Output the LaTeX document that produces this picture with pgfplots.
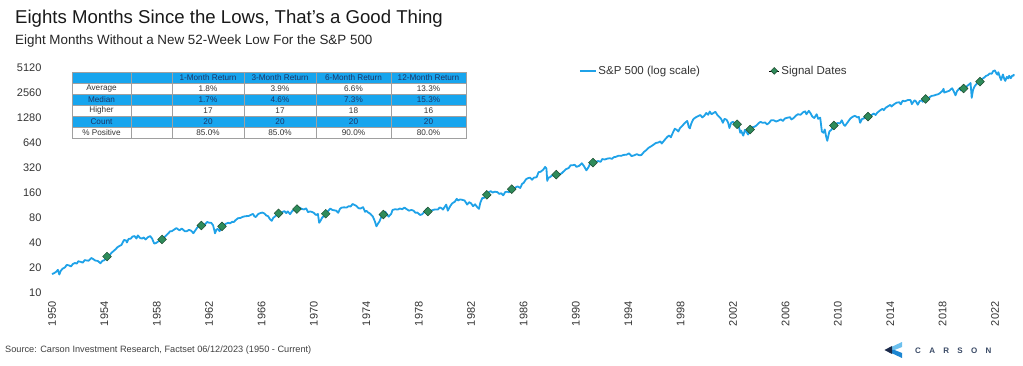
\documentclass[border=0pt]{standalone}
\usepackage{pgfplots}
\usepackage{pgfplotstable}
\pgfplotsset{compat=1.18}
\usepackage{fontspec}
\setmainfont{Liberation Sans}
\definecolor{spblue}{HTML}{1FA2E8}
\definecolor{tblblue}{HTML}{17A5EE}
\definecolor{navytxt}{HTML}{1C3566}
\definecolor{sigfill}{HTML}{2E8B5A}
\definecolor{sigdraw}{HTML}{1D4A2E}
\definecolor{txtgray}{HTML}{333333}
\definecolor{gridgray}{HTML}{A0A0A0}
\definecolor{logolight}{HTML}{6CC0EE}
\definecolor{logomid}{HTML}{1C86D2}
\definecolor{logodark}{HTML}{1B2A4A}
\definecolor{carsontxt}{HTML}{3A4A66}
\pgfplotsset{splegend/.style={legend image code/.code={\draw[##1, line width=1.2pt] (0pt,0pt)--(16pt,0pt);}}}
\pgfplotsset{siglegend/.style={legend image code/.code={\path (0pt,0pt) -- (10pt,0pt); \draw[##1, mark size=2.4pt] plot coordinates {(5pt,0pt)};}}}

\pgfplotstableread{
year value
1950.00 16.9
1950.15 17.3
1950.30 17.9
1950.45 19.0
1950.52 17.4
1950.56 16.7
1950.66 18.4
1950.80 19.6
1951.00 20.4
1951.12 21.8
1951.30 21.5
1951.45 20.9
1951.60 22.4
1951.75 23.0
1951.90 22.6
1952.00 24.1
1952.20 23.7
1952.35 23.2
1952.50 24.9
1952.65 24.6
1952.80 24.5
1953.00 26.4
1953.15 25.6
1953.30 24.6
1953.50 24.3
1953.70 22.8
1953.85 24.4
1954.00 24.8
1954.20 27.5
1954.40 28.6
1954.55 30.6
1954.70 32.0
1954.85 33.6
1955.00 35.6
1955.15 36.8
1955.30 37.9
1955.50 43.5
1955.65 43.0
1955.72 40.6
1955.85 44.8
1956.00 45.0
1956.15 47.8
1956.30 48.5
1956.45 45.2
1956.55 49.4
1956.75 45.6
1956.90 45.4
1957.00 46.7
1957.15 44.1
1957.30 46.7
1957.50 48.5
1957.65 45.0
1957.80 39.4
1957.95 40.0
1958.10 41.7
1958.25 42.4
1958.40 44.1
1958.55 46.2
1958.75 50.0
1958.90 52.5
1959.00 55.2
1959.15 55.5
1959.30 57.6
1959.50 60.5
1959.65 58.0
1959.75 57.0
1959.90 59.8
1960.00 58.0
1960.15 55.3
1960.30 55.5
1960.45 57.6
1960.60 56.5
1960.80 52.5
1960.95 57.0
1961.10 61.6
1961.25 65.0
1961.40 65.0
1961.55 66.7
1961.70 67.5
1961.85 71.8
1962.00 70.0
1962.15 70.2
1962.30 65.2
1962.45 52.3
1962.55 58.0
1962.65 59.1
1962.80 55.5
1962.95 63.1
1963.05 64.0
1963.25 68.0
1963.45 70.0
1963.60 69.1
1963.75 72.0
1963.88 71.5
1964.00 75.0
1964.20 79.5
1964.40 80.2
1964.55 82.5
1964.75 84.0
1964.90 84.4
1965.00 84.5
1965.20 87.6
1965.35 89.5
1965.45 84.0
1965.55 82.0
1965.75 89.5
1965.90 91.6
1966.05 93.0
1966.20 91.0
1966.35 86.0
1966.50 84.0
1966.65 77.1
1966.78 74.0
1966.90 80.5
1967.05 84.0
1967.20 88.5
1967.30 91.0
1967.45 90.6
1967.60 94.6
1967.75 96.7
1967.88 91.6
1968.00 96.0
1968.18 89.0
1968.35 97.5
1968.50 100.0
1968.70 102.5
1968.90 107.0
1969.05 103.0
1969.25 101.5
1969.40 104.5
1969.55 94.0
1969.70 96.0
1969.85 94.5
1970.00 92.0
1970.15 87.0
1970.30 89.5
1970.40 70.0
1970.50 74.0
1970.65 82.0
1970.80 84.0
1970.90 90.0
1971.05 96.0
1971.25 103.9
1971.40 100.0
1971.55 99.0
1971.70 98.0
1971.85 92.5
1972.00 103.9
1972.15 107.0
1972.30 107.5
1972.50 107.0
1972.65 111.0
1972.80 110.0
1972.95 118.0
1973.05 116.0
1973.25 111.5
1973.40 105.0
1973.55 104.0
1973.75 108.0
1973.90 95.0
1974.00 97.5
1974.15 93.0
1974.30 90.0
1974.50 83.0
1974.65 73.0
1974.77 63.5
1974.90 69.0
1975.00 72.5
1975.15 83.0
1975.30 88.0
1975.45 95.0
1975.55 90.0
1975.70 83.0
1975.90 90.0
1976.00 100.0
1976.20 102.0
1976.40 101.0
1976.55 104.0
1976.75 102.0
1976.90 107.0
1977.05 103.0
1977.25 98.0
1977.45 100.0
1977.60 98.0
1977.75 92.5
1977.90 93.0
1978.10 87.0
1978.25 88.5
1978.45 95.0
1978.60 103.0
1978.70 96.0
1978.85 93.0
1979.00 99.0
1979.25 101.5
1979.45 101.0
1979.60 107.0
1979.75 105.0
1979.85 101.0
1980.00 110.0
1980.10 116.0
1980.22 98.0
1980.40 111.0
1980.55 120.0
1980.75 125.5
1980.90 136.0
1981.00 130.0
1981.15 134.0
1981.35 132.0
1981.50 130.0
1981.70 116.0
1981.85 124.0
1982.00 120.0
1982.15 111.0
1982.30 117.0
1982.45 109.0
1982.60 103.0
1982.70 122.0
1982.85 139.0
1983.00 140.0
1983.20 152.0
1983.35 164.0
1983.50 168.0
1983.65 162.0
1983.80 166.0
1984.00 164.0
1984.15 156.0
1984.30 159.0
1984.45 150.0
1984.60 164.0
1984.75 166.0
1984.90 163.0
1985.10 178.0
1985.25 180.0
1985.45 189.0
1985.55 192.0
1985.75 184.0
1985.90 207.0
1986.00 211.0
1986.20 235.0
1986.35 242.0
1986.50 245.0
1986.65 231.0
1986.80 245.0
1987.00 248.0
1987.15 285.0
1987.30 288.0
1987.50 305.0
1987.65 330.0
1987.75 315.0
1987.81 224.0
1987.90 245.0
1988.00 247.0
1988.20 262.0
1988.35 258.0
1988.50 266.0
1988.70 268.0
1988.90 275.0
1989.05 290.0
1989.25 310.0
1989.45 320.0
1989.60 346.0
1989.75 345.0
1989.90 350.0
1990.05 330.0
1990.25 340.0
1990.45 365.0
1990.60 340.0
1990.80 300.0
1990.95 325.0
1991.10 365.0
1991.30 372.0
1991.50 380.0
1991.70 388.0
1991.90 380.0
1992.00 410.0
1992.20 405.0
1992.40 415.0
1992.60 420.0
1992.75 412.0
1992.90 432.0
1993.05 436.0
1993.25 450.0
1993.45 448.0
1993.65 460.0
1993.85 462.0
1994.05 480.0
1994.25 445.0
1994.45 455.0
1994.65 470.0
1994.85 455.0
1995.00 459.0
1995.20 500.0
1995.40 530.0
1995.55 560.0
1995.75 585.0
1995.95 615.0
1996.10 640.0
1996.30 650.0
1996.45 670.0
1996.55 630.0
1996.75 690.0
1996.95 750.0
1997.10 790.0
1997.25 750.0
1997.40 850.0
1997.55 950.0
1997.70 920.0
1997.82 880.0
1997.95 970.0
1998.10 1020.0
1998.30 1110.0
1998.50 1180.0
1998.62 990.0
1998.70 960.0
1998.80 1090.0
1998.95 1230.0
1999.10 1290.0
1999.30 1340.0
1999.50 1390.0
1999.65 1300.0
1999.80 1360.0
1999.95 1470.0
2000.10 1400.0
2000.22 1530.0
2000.35 1420.0
2000.50 1470.0
2000.65 1520.0
2000.80 1390.0
2000.95 1320.0
2001.10 1240.0
2001.22 1120.0
2001.35 1250.0
2001.50 1220.0
2001.62 1130.0
2001.72 970.0
2001.85 1120.0
2001.98 1150.0
2002.10 1120.0
2002.30 1076.0
2002.45 990.0
2002.55 850.0
2002.62 900.0
2002.72 820.0
2002.78 785.0
2002.90 920.0
2003.00 880.0
2003.15 810.0
2003.30 930.0
2003.45 990.0
2003.60 1000.0
2003.75 1030.0
2003.95 1110.0
2004.10 1150.0
2004.25 1120.0
2004.45 1130.0
2004.60 1070.0
2004.75 1120.0
2004.90 1200.0
2005.10 1200.0
2005.30 1160.0
2005.50 1200.0
2005.65 1230.0
2005.80 1180.0
2005.95 1260.0
2006.15 1290.0
2006.35 1310.0
2006.45 1230.0
2006.60 1270.0
2006.80 1370.0
2006.95 1420.0
2007.15 1400.0
2007.35 1500.0
2007.50 1540.0
2007.60 1420.0
2007.78 1560.0
2007.90 1470.0
2008.05 1330.0
2008.20 1280.0
2008.38 1420.0
2008.50 1250.0
2008.65 1290.0
2008.78 880.0
2008.90 850.0
2009.00 930.0
2009.10 770.0
2009.19 680.0
2009.35 880.0
2009.50 920.0
2009.70 1040.0
2009.85 1090.0
2010.00 1115.0
2010.15 1100.0
2010.30 1200.0
2010.45 1060.0
2010.55 1030.0
2010.75 1140.0
2010.95 1260.0
2011.15 1330.0
2011.30 1360.0
2011.50 1300.0
2011.60 1320.0
2011.70 1120.0
2011.85 1250.0
2011.98 1260.0
2012.15 1380.0
2012.30 1330.0
2012.45 1330.0
2012.60 1400.0
2012.75 1450.0
2012.88 1390.0
2013.00 1480.0
2013.20 1570.0
2013.40 1650.0
2013.50 1590.0
2013.65 1700.0
2013.80 1760.0
2014.00 1840.0
2014.10 1760.0
2014.30 1880.0
2014.50 1960.0
2014.70 1980.0
2014.80 1870.0
2014.95 2070.0
2015.10 2030.0
2015.35 2110.0
2015.55 2100.0
2015.65 1880.0
2015.85 2090.0
2015.95 2040.0
2016.10 1850.0
2016.25 2050.0
2016.45 2090.0
2016.48 2000.0
2016.60 2170.0
2016.70 2170.0
2016.85 2130.0
2016.95 2250.0
2017.15 2360.0
2017.35 2390.0
2017.50 2440.0
2017.65 2470.0
2017.80 2560.0
2017.95 2680.0
2018.07 2870.0
2018.12 2590.0
2018.30 2650.0
2018.50 2720.0
2018.72 2920.0
2018.85 2680.0
2018.98 2400.0
2019.10 2700.0
2019.30 2930.0
2019.40 2750.0
2019.50 2990.0
2019.60 2900.0
2019.75 2980.0
2019.90 3140.0
2020.05 3280.0
2020.13 3380.0
2020.22 2240.0
2020.32 2800.0
2020.45 3100.0
2020.60 3300.0
2020.68 3580.0
2020.75 3300.0
2020.85 3500.0
2020.98 3750.0
2021.15 3900.0
2021.30 4100.0
2021.45 4200.0
2021.60 4400.0
2021.75 4360.0
2021.85 4690.0
2021.99 4790.0
2022.10 4400.0
2022.20 4250.0
2022.25 4560.0
2022.38 3950.0
2022.46 3670.0
2022.60 4280.0
2022.70 3800.0
2022.78 3580.0
2022.90 4000.0
2023.00 3830.0
2023.08 4130.0
2023.20 3860.0
2023.32 4150.0
2023.40 4120.0
2023.45 4300.0
}\spx

\pgfplotstableread{
year value
1954.20 27.5
1958.40 44.1
1961.40 65.0
1962.98 63.5
1967.30 91.0
1968.70 102.5
1970.90 90.0
1975.30 88.0
1978.70 96.0
1983.20 152.0
1985.10 178.0
1988.50 266.0
1991.30 372.0
2002.30 1076.0
2003.30 930.0
2009.70 1040.0
2012.30 1330.0
2016.70 2170.0
2019.60 2900.0
2020.85 3500.0
}\signals

\begin{document}
\begin{tikzpicture}[x=1pt,y=1pt]
\path[use as bounding box] (0,0) rectangle (1023,365);

% titles
\node[anchor=base west,inner sep=0pt,text=black!90] at (15,341)
  {\fontsize{18.6}{21}\selectfont Eights Months Since the Lows, That's a Good Thing};
\node[anchor=base west,inner sep=0pt,text=black!85] at (15,320.7)
  {\fontsize{13.4}{15}\selectfont Eight Months Without a New 52-Week Low For the S\&P 500};

\begin{axis}[
  at={(52pt,72pt)}, anchor=south west,
  scale only axis, width=964pt, height=225pt,
  xmin=1950, xmax=2023.6,
  ymode=log, log basis y=2,
  ymin=10, ymax=5120,
  axis line style={draw=none},
  tick style={draw=none},
  xtick={1950,1954,1958,1962,1966,1970,1974,1978,1982,1986,1990,1994,1998,2002,2006,2010,2014,2018,2022},
  xticklabels={1950,1954,1958,1962,1966,1970,1974,1978,1982,1986,1990,1994,1998,2002,2006,2010,2014,2018,2022},
  ytick={10,20,40,80,160,320,640,1280,2560,5120},
  yticklabels={10,20,40,80,160,320,640,1280,2560,5120},
  ticklabel style={font=\fontsize{11}{13}\selectfont, text=txtgray},
  xticklabel style={rotate=90, anchor=east, xshift=-5pt},
  yticklabel style={xshift=-7pt},
  clip=false,
  legend columns=2,
  legend cell align=left,
  legend style={draw=none, fill=none, at={(0.5436,0.987)}, anchor=west,
    font=\fontsize{11.5}{13}\selectfont, text=txtgray,
    /tikz/every even column/.append style={column sep=67pt}},
]
\addplot[color=spblue, line width=1.8pt, line join=round, splegend]
  table[x=year,y=value] {\spx};
\addlegendentry{S\&P 500 (log scale)}
\addplot[only marks, mark=square*, mark size=3.1pt,
  mark options={rotate=45, fill=sigfill, draw=sigdraw, line width=0.5pt}, siglegend]
  table[x=year,y=value] {\signals};
\addlegendentry{Signal Dates}
\end{axis}

% statistics table
\begin{scope}
\fill[tblblue] (72,282) rectangle (466,293);
\fill[tblblue] (72,260) rectangle (466,271);
\fill[tblblue] (72,238) rectangle (466,249);
\draw[gridgray, line width=0.5pt] (72,227) rectangle (466,293);
\foreach \yy in {282,271,260,249,238} {\draw[gridgray, line width=0.4pt] (72,\yy) -- (466,\yy);}
\foreach \xx in {131,172,244,316,391} {\draw[gridgray, line width=0.4pt] (\xx,227) -- (\xx,293);}
\tikzset{tc/.style={font=\fontsize{8.2}{9}\selectfont, inner sep=0pt, anchor=center}}
% header
\node[tc,text=navytxt] at (208,287.5) {1-Month Return};
\node[tc,text=navytxt] at (280,287.5) {3-Month Return};
\node[tc,text=navytxt] at (353.5,287.5) {6-Month Return};
\node[tc,text=navytxt] at (428.5,287.5) {12-Month Return};
% rows
\node[tc,text=txtgray] at (101.5,276.5) {Average};
\node[tc,text=txtgray] at (208,276.5) {1.8\%};
\node[tc,text=txtgray] at (280,276.5) {3.9\%};
\node[tc,text=txtgray] at (353.5,276.5) {6.6\%};
\node[tc,text=txtgray] at (428.5,276.5) {13.3\%};
\node[tc,text=navytxt] at (101.5,265.5) {Median};
\node[tc,text=navytxt] at (208,265.5) {1.7\%};
\node[tc,text=navytxt] at (280,265.5) {4.6\%};
\node[tc,text=navytxt] at (353.5,265.5) {7.3\%};
\node[tc,text=navytxt] at (428.5,265.5) {15.3\%};
\node[tc,text=txtgray] at (101.5,254.5) {Higher};
\node[tc,text=txtgray] at (208,254.5) {17};
\node[tc,text=txtgray] at (280,254.5) {17};
\node[tc,text=txtgray] at (353.5,254.5) {18};
\node[tc,text=txtgray] at (428.5,254.5) {16};
\node[tc,text=navytxt] at (101.5,243.5) {Count};
\node[tc,text=navytxt] at (208,243.5) {20};
\node[tc,text=navytxt] at (280,243.5) {20};
\node[tc,text=navytxt] at (353.5,243.5) {20};
\node[tc,text=navytxt] at (428.5,243.5) {20};
\node[tc,text=txtgray] at (101.5,232.5) {\% Positive};
\node[tc,text=txtgray] at (208,232.5) {85.0\%};
\node[tc,text=txtgray] at (280,232.5) {85.0\%};
\node[tc,text=txtgray] at (353.5,232.5) {90.0\%};
\node[tc,text=txtgray] at (428.5,232.5) {80.0\%};
\end{scope}

% source
\node[anchor=base west,inner sep=0pt,text=black!75] at (5,13)
  {\fontsize{9.2}{11}\selectfont Source: Carson Investment Research, Factset 06/12/2023 (1950 - Current)};

% logo
\fill[logolight] (886,15.5) -- (902,23) -- (902,18) -- (894,14.8) -- cycle;
\fill[logomid] (886,14.5) -- (894,15.2) -- (902,12) -- (902,7) -- cycle;
\fill[logodark] (884.5,15) -- (892,19) -- (892,11) -- cycle;
\node[anchor=west,inner sep=0pt,text=carsontxt] at (915,14.3)
  {\fontsize{8}{9}\selectfont\bfseries C\kern8.3pt A\kern8.3pt R\kern8.3pt S\kern8.3pt O\kern8.3pt N};
\end{tikzpicture}
\end{document}
